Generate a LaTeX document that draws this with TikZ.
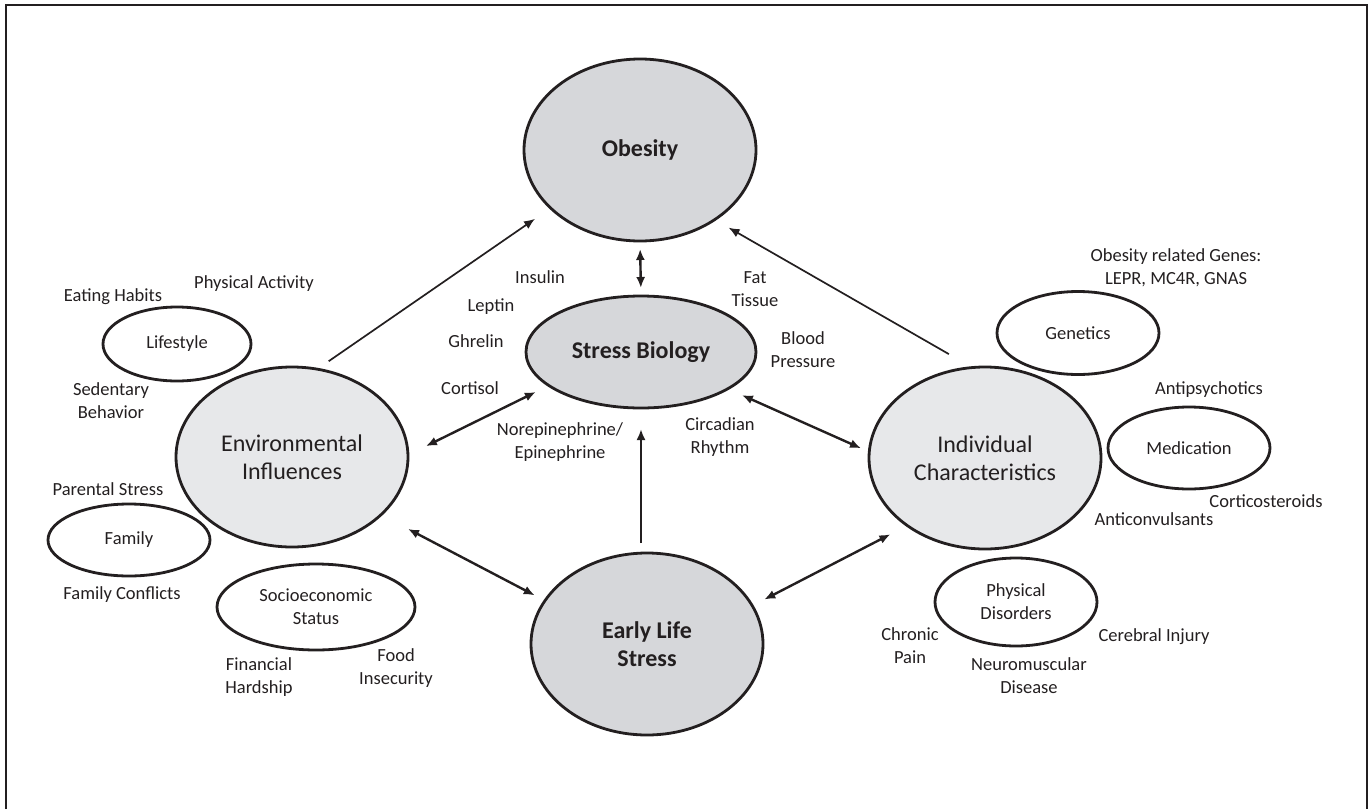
\documentclass[tikz,border=0pt]{standalone}
\usepackage{fontspec}
\setmainfont{Carlito}
\usetikzlibrary{arrows.meta,shapes.geometric}
\definecolor{ink}{RGB}{35,31,32}
\definecolor{darkfill}{RGB}{214,215,218}
\definecolor{lightfill}{RGB}{231,232,234}

\begin{document}
\begin{tikzpicture}[x=1pt,y=-1pt,color=ink,
  >={Latex[length=11pt,width=9pt]},
  big/.style={ellipse,draw,line width=2.8pt,inner sep=0pt,outer sep=0pt,minimum width=232pt,minimum height=182pt,align=center,font=\fontsize{24}{28}\selectfont},
  core/.style={big,fill=darkfill,font=\fontsize{24}{28}\selectfont\bfseries},
  factor/.style={big,fill=lightfill},
  sub/.style={ellipse,draw,line width=2.8pt,inner sep=0pt,outer sep=0pt,align=center,font=\fontsize{18.5}{23}\selectfont},
  lbl/.style={align=center,inner sep=0pt,font=\fontsize{18.5}{23}\selectfont},
  thinarr/.style={->,line width=1.7pt},
  arr/.style={line width=2.4pt}]
\useasboundingbox (0,0) rectangle (1371,809);
\draw[line width=1.4pt] (6,809) -- (6,5) -- (1367,5) -- (1367,809);

\node[core] (obesity) at (640,150) {Obesity};
\node[core,minimum height=112pt,minimum width=230pt] (stress) at (641,352) {Stress Biology};
\node[core] (early) at (647,644) {Early Life\\Stress};
\node[factor,minimum height=180pt] (env) at (292,457) {Environmental\\Influences};
\node[factor] (indiv) at (985,458) {Individual\\Characteristics};

\node[sub,minimum width=148pt,minimum height=74pt] (lifestyle) at (177,344) {Lifestyle};
\node[sub,minimum width=162pt,minimum height=72pt] (family) at (129,540) {Family};
\node[sub,minimum width=198pt,minimum height=86pt] (ses) at (316,607) {Socioeconomic\\Status};
\node[sub,minimum width=162pt,minimum height=83pt] (genetics) at (1078,333) {Genetics};
\node[sub,minimum width=162pt,minimum height=82pt] (medication) at (1189,448) {Medication};
\node[sub,minimum width=162pt,minimum height=88pt] (physdis) at (1016,602) {Physical\\Disorders};

\node[lbl] (insulin) at (540,277) {Insulin};
\node[lbl] (leptin) at (491,307) {Leptin};
\node[lbl] (ghrelin) at (476,341) {Ghrelin};
\node[lbl] (cortisol) at (470,388) {Cortisol};
\node[lbl] (norepi) at (560,442) {Norepinephrine/\\Epinephrine};
\node[lbl] (circadian) at (720,437) {Circadian\\Rhythm};
\node[lbl] (fattissue) at (755,289) {Fat\\Tissue};
\node[lbl] (bloodpress) at (803,350) {Blood\\Pressure};

\node[lbl] (eating) at (113,297) {Eating Habits};
\node[lbl] (physact) at (254,284) {Physical Activity};
\node[lbl] (sedentary) at (111,401) {Sedentary\\Behavior};
\node[lbl] (parental) at (108,489) {Parental Stress};
\node[lbl] (conflicts) at (122,595) {Family Conflicts};
\node[lbl] (financial) at (259,677) {Financial\\Hardship};
\node[lbl] (food) at (396,668) {Food\\Insecurity};

\node[lbl] (genes) at (1176,268) {Obesity related Genes:\\LEPR, MC4R, GNAS};
\node[lbl] (antipsych) at (1209,390) {Antipsychotics};
\node[lbl] (cortico) at (1266,501) {Corticosteroids};
\node[lbl] (anticonv) at (1154,519) {Anticonvulsants};
\node[lbl] (chronic) at (910,646) {Chronic\\Pain};
\node[lbl] (neuro) at (1029,676) {Neuromuscular\\Disease};
\node[lbl] (cerebral) at (1154,637) {Cerebral Injury};

\draw[thinarr,shorten <=14pt,shorten >=19pt] (env.74) -- (obesity.213);
\draw[thinarr,shorten <=27pt,shorten >=16pt] (indiv.98) -- (obesity.317);
\draw[arr,<->,shorten <=8pt,shorten >=8pt] (obesity.south) -- (stress.north);
\draw[arr,<->,shorten <=20pt,shorten >=14.5pt] (env.1) -- (stress.200);
\draw[arr,<->,shorten <=15.5pt,shorten >=9pt] (stress.337) -- (indiv.177);
\draw[arr,<->,shorten <=30.5pt,shorten >=11.5pt] (env.327) -- (early.157);
\draw[arr,<->,shorten <=13.5pt,shorten >=19pt] (early.20) -- (indiv.221);
\draw[arr,->,shorten <=10pt,shorten >=21pt] (early.north -| stress.south) -- (stress.south);
\end{tikzpicture}
\end{document}
